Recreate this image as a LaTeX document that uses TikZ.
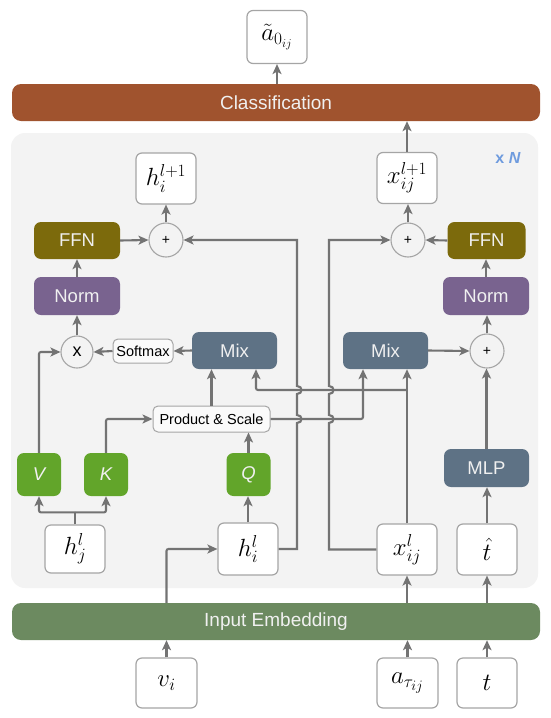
\documentclass[tikz,border=0pt]{standalone}
\usepackage{fontspec}
\setmainfont{Liberation Sans}
\usetikzlibrary{arrows.meta,calc}
\definecolor{clsbar}{RGB}{160,83,46}
\definecolor{embbar}{RGB}{108,138,96}
\definecolor{ffnc}{RGB}{124,106,12}
\definecolor{normc}{RGB}{121,99,143}
\definecolor{mixc}{RGB}{94,114,133}
\definecolor{greenc}{RGB}{98,165,42}
\definecolor{panelc}{RGB}{243,243,243}
\definecolor{linec}{RGB}{115,115,115}
\definecolor{boxline}{RGB}{165,165,165}
\definecolor{nblue}{RGB}{110,155,222}
\definecolor{lbltext}{RGB}{240,240,240}
\begin{document}
\begin{tikzpicture}[x=1pt,y=-1pt,
  conn/.style={draw=linec,line width=2.1pt,-{Stealth[length=10pt,width=9pt,inset=2.5pt]}},
  plain/.style={draw=linec,line width=2.1pt},
  colbox/.style={rounded corners=7pt,text=lbltext,inner sep=0pt,
     font=\fontsize{18.5}{20}\selectfont},
  barbox/.style={colbox,rounded corners=9pt,minimum width=528pt,minimum height=37pt,
     font=\fontsize{19}{21}\selectfont},
  stdbox/.style={colbox,minimum width=86pt,minimum height=37pt},
  greenbox/.style={colbox,fill=greenc,minimum width=44pt,minimum height=43pt,
     font=\fontsize{18.5}{20}\selectfont\itshape},
  varbox/.style={draw=boxline,line width=1.2pt,fill=white,rounded corners=6pt,
     inner sep=0pt,minimum width=60pt,minimum height=51pt},
  bigmath/.style={font=\fontsize{27}{29}\selectfont},
  topmath/.style={font=\fontsize{23.5}{25}\selectfont},
  smallbox/.style={draw=boxline,line width=1pt,fill=white!98!black,rounded corners=5pt,
     inner sep=0pt,font=\fontsize{14.5}{16}\selectfont},
  opcirc/.style={circle,draw=boxline,line width=1.1pt,inner sep=0pt,minimum size=34pt}
]
\useasboundingbox (0,0) rectangle (550,718);
% panel
\fill[panelc,rounded corners=14pt] (11,133) rectangle (538,588);

% output and classification
\node[varbox,topmath,minimum height=53pt] (out) at (277,37) {$\tilde{a}_{0_{ij}}$};
\node[barbox,fill=clsbar] (cls) at (276,102.5) {Classification};
\node[text=nblue,font=\bfseries\fontsize{16}{18}\selectfont] (xn) at (508,158) {x \textit{N}};

% upper row
\node[varbox,topmath] (hout) at (166,178.5) {$h_i^{l+1}$};
\node[varbox,topmath] (xout) at (407,178) {$x_{ij}^{l+1}$};
\node[opcirc,font=\fontsize{14}{14}\selectfont] (plusL) at (166,240) {+};
\node[opcirc,font=\fontsize{14}{14}\selectfont] (plusR) at (408,240) {+};
\node[stdbox,fill=ffnc] (ffnL) at (77,240.5) {FFN};
\node[stdbox,fill=ffnc,minimum width=78pt] (ffnR) at (486.5,240.5) {FFN};
\node[stdbox,fill=normc,minimum height=38pt] (normL) at (77,296) {Norm};
\node[stdbox,fill=normc,minimum height=38pt] (normR) at (486,296) {Norm};

% attention row
\node[opcirc,minimum size=32pt,font=\fontsize{18}{18}\selectfont] (mulL) at (77,352) {x};
\node[smallbox,minimum width=60pt,minimum height=24pt] (soft) at (143,351) {Softmax};
\node[stdbox,fill=mixc,minimum width=85pt] (mixL) at (234.5,350.5) {Mix};
\node[stdbox,fill=mixc,minimum width=85pt] (mixR) at (385.5,350.5) {Mix};
\node[opcirc,font=\fontsize{14}{14}\selectfont] (plusM) at (487,351) {+};
\node[smallbox,minimum width=117pt,minimum height=26pt] (ps) at (211.5,419) {Product \& Scale};

\node[greenbox] (V) at (39,474.5) {V};
\node[greenbox] (K) at (106,474.5) {K};
\node[greenbox] (Q) at (248.5,474.5) {Q};
\node[stdbox,fill=mixc,minimum width=85pt,minimum height=38pt] (mlp) at (486.5,468) {MLP};

% layer inputs
\node[varbox,bigmath,minimum height=48pt] (hj) at (75,549) {$h_j^l$};
\node[varbox,bigmath,minimum height=52pt] (hi) at (248,549) {$h_i^l$};
\node[varbox,bigmath] (xij) at (407,549.5) {$x_{ij}^l$};
\node[varbox,bigmath] (that) at (487,549.5) {$\hat{t}$};

% embedding and raw inputs
\node[barbox,fill=embbar] (emb) at (276,621.5) {Input Embedding};
\node[varbox,bigmath,minimum width=61pt,minimum height=50pt] (vi) at (166.5,683) {$v_i$};
\node[varbox,bigmath,minimum width=61pt,minimum height=50pt] (ain) at (407.5,683) {$a_{\tau_{ij}}$};
\node[varbox,bigmath,minimum height=50pt] (tin) at (487,683) {$t$};

% connectors: top
\draw[conn] (out.south |- cls.north) -- (out.south);
\draw[conn] (xout.north) -- (xout.north |- cls.south);
\draw[conn] (plusL.north) -- (plusL.north |- hout.south);
\draw[conn] (plusR.north) -- (plusR.north |- xout.south);
\draw[conn] (ffnL.east) -- (plusL.west);
\draw[conn] (ffnR.west) -- (plusR.east);
\draw[conn] (normL.north) -- (ffnL.south);
\draw[conn] (normR.north) -- (normR.north |- ffnR.south);
\draw[conn] (mulL.north) -- (normL.south);
\draw[conn] (plusM.north) -- (plusM.north |- normR.south);

% attention
\draw[conn] (soft.west) -- (mulL.east);
\draw[conn] (mixL.west) -- (soft.east);
\draw[conn] (mixR.east) -- (plusM.west);
\draw[conn] (mlp.north) -- (mlp.north |- plusM.south);
\draw[conn] (that.north) -- (that.north |- mlp.south);
\draw[conn] (ps.north) -- (ps.north |- mixL.south);
\draw[conn] (Q.north) -- (Q.north |- ps.south);
\draw[conn] (hi.north) -- (hi.north |- Q.south);
\draw[conn,rounded corners=2pt] (V.north) |- (mulL.west);
\draw[conn,rounded corners=2pt] (K.north) |- (ps.west);
\draw[plain] (hj.north) -- ++(0,-12) coordinate (hjb);
\draw[conn,rounded corners=2pt] (hjb) -| (V.south);
\draw[conn,rounded corners=2pt] (hjb) -| (K.south);

% x_ij feeds both mixes
\draw[conn] (xij.north) -- (xij.north |- mixR.south);
\coordinate (xb) at (407,390);
\draw[conn,rounded corners=2pt] (xb) -| ($(mixL.south)+(21.5,0)$);
\draw[conn,rounded corners=2pt] (ps.east) -| ($(mixR.south)+(-22.5,0)$);

% residual paths with jumps
\draw[conn] (hi.east) -- (297,549) -- (297,423)
   .. controls (303,423) and (303,415) .. (297,415) -- (297,394)
   .. controls (303,394) and (303,386) .. (297,386) -- (297,240) -- (plusL.east);
\draw[conn] (xij.west) -- (329,549.5) -- (329,423)
   .. controls (335,423) and (335,415) .. (329,415) -- (329,394)
   .. controls (335,394) and (335,386) .. (329,386) -- (329,240) -- (plusR.west);

% embedding
\draw[conn] (vi.north) -- (vi.north |- emb.south);
\draw[conn] (ain.north) -- (ain.north |- emb.south);
\draw[conn] (tin.north) -- (tin.north |- emb.south);
\draw[conn] (xij.south |- emb.north) -- (xij.south);
\draw[conn] (that.south |- emb.north) -- (that.south);
\draw[conn,rounded corners=2pt] (vi.north |- emb.north) |- (hi.west);
\end{tikzpicture}
\end{document}
